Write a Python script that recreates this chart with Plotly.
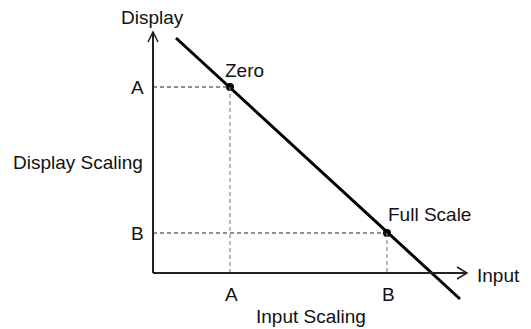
import plotly.graph_objects as go

# data in axis units (origin at the axis corner)
input_ticks = ["A", "B"]
input_values = [77, 234]
display_ticks = ["A", "B"]
display_values = [186, 40]
point_labels = ["Zero", "Full Scale"]

line_x = [23, 307]
line_y = [235, -26]

x_axis_len = 314
y_axis_len = 241

FONT = dict(family="Liberation Sans, Arial, sans-serif", size=19, color="#111")

fig = go.Figure()

# scaling line
fig.add_trace(go.Scatter(
    x=line_x, y=line_y, mode="lines",
    line=dict(color="black", width=3), hoverinfo="skip", showlegend=False
))

# dashed guides
for xv, yv in zip(input_values, display_values):
    fig.add_shape(type="line", x0=0, y0=yv, x1=xv, y1=yv,
                  line=dict(color="#222", width=1, dash="4px,3px"))
    fig.add_shape(type="line", x0=xv, y0=yv, x1=xv, y1=0,
                  line=dict(color="#888", width=1.2, dash="4px,3px"))

# axes with open arrow heads
fig.add_shape(type="line", x0=0, y0=0, x1=0, y1=y_axis_len, line=dict(color="#222", width=2))
fig.add_shape(type="line", x0=0, y0=0, x1=x_axis_len, y1=0, line=dict(color="#222", width=2))
fig.add_shape(type="path",
              path=f"M -5 {y_axis_len - 10} L 0 {y_axis_len} L 5 {y_axis_len - 10}",
              line=dict(color="#222", width=1.5))
fig.add_shape(type="path",
              path=f"M {x_axis_len - 10} 6 L {x_axis_len} 0 L {x_axis_len - 10} -6",
              line=dict(color="#222", width=1.5))

# points
fig.add_trace(go.Scatter(
    x=input_values, y=display_values, mode="markers",
    marker=dict(color="black", size=8), hoverinfo="skip", showlegend=False
))

# point labels
fig.add_annotation(x=input_values[0], y=display_values[0], text=point_labels[0],
                   showarrow=False, xanchor="left", yanchor="bottom", xshift=-7, yshift=4, font=FONT)
fig.add_annotation(x=input_values[1], y=display_values[1], text=point_labels[1],
                   showarrow=False, xanchor="left", yanchor="bottom", xshift=-1, yshift=6, font=FONT)

# tick labels
for lbl, xv in zip(input_ticks, input_values):
    fig.add_annotation(x=xv, y=0, text=lbl, showarrow=False, yanchor="top", yshift=-9, xshift=1, font=FONT)
for lbl, yv in zip(display_ticks, display_values):
    fig.add_annotation(x=0, y=yv, text=lbl, showarrow=False, xanchor="right", xshift=-7, font=FONT)

# axis titles
fig.add_annotation(x=0, y=y_axis_len, text="Display", showarrow=False, yanchor="bottom", yshift=2, xshift=-1, font=FONT)
fig.add_annotation(x=x_axis_len, y=0, text="Input", showarrow=False, xanchor="left", xshift=8, yshift=-2, font=FONT)
fig.add_annotation(x=0, y=(display_values[0] + display_values[1]) / 2 - 2, text="Display Scaling",
                   showarrow=False, xanchor="right", xshift=-8, font=FONT)
fig.add_annotation(x=(input_values[0] + input_values[1]) / 2, y=0, text="Input Scaling",
                   showarrow=False, yanchor="top", yshift=-31, xshift=2, font=FONT)

# page body has an 8px margin, so the figure starts 8px in
fig.update_layout(
    width=523, height=321,
    margin=dict(l=0, r=0, t=0, b=0),
    plot_bgcolor="white", paper_bgcolor="white",
    xaxis=dict(range=[-145, 378], visible=False, fixedrange=True),
    yaxis=dict(range=[-56, 265], visible=False, fixedrange=True),
)

fig.write_html("out.html")
